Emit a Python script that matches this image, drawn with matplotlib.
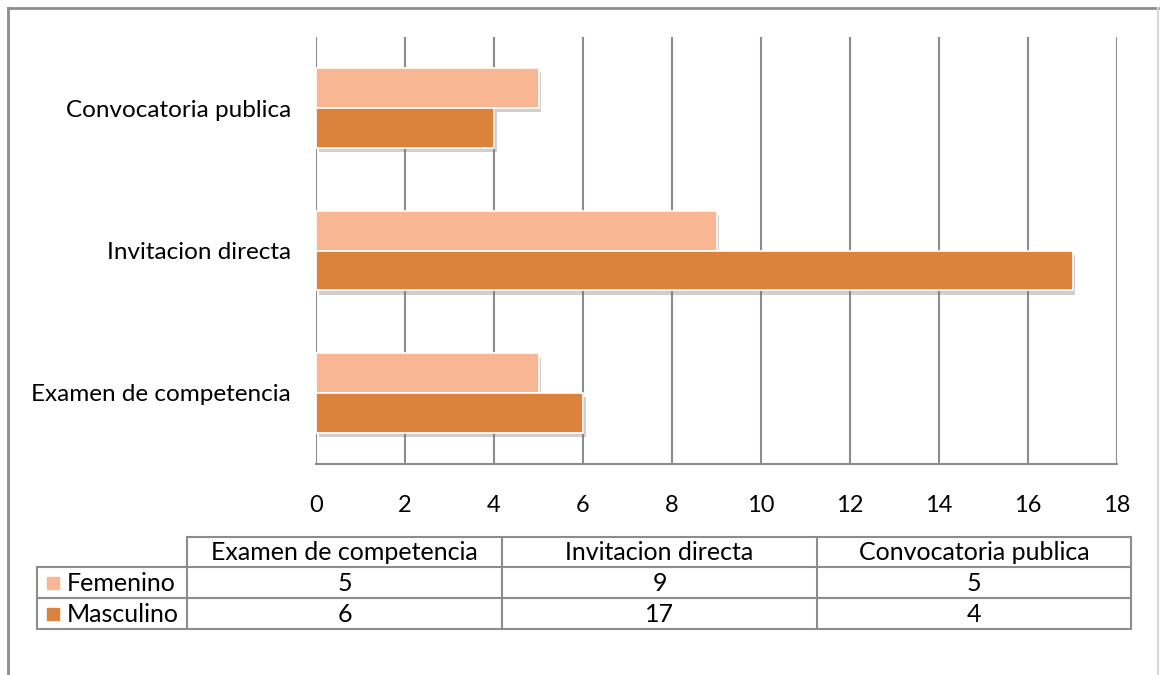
import numpy as np
import matplotlib.pyplot as plt
import matplotlib.patheffects as pe
from matplotlib.patches import Rectangle

# Datos
categorias = ['Examen de competencia', 'Invitacion directa', 'Convocatoria publica']
series = ['Femenino', 'Masculino']
femenino = [5, 9, 5]
masculino = [6, 17, 4]
colores = ['#F8B692', '#DB833C']

plt.rcParams['font.family'] = ['Lato', 'DejaVu Sans']

W, H = 1160, 675
fig = plt.figure(figsize=(W / 100, H / 100), dpi=100)

# Capa de fondo en pixeles para la tabla y el borde
bg = fig.add_axes([0, 0, 1, 1])
bg.set_xlim(0, W)
bg.set_ylim(H, 0)
bg.axis('off')

# Borde exterior
bg.plot([8, 8], [8, H], color='#8c8c8c', lw=2)
bg.plot([8, W - 2], [8, 8], color='#8c8c8c', lw=2)
bg.plot([W - 2, W - 2], [8, H], color='#d9d9d9', lw=1.5)

# Grafico de barras
ax = fig.add_axes([316 / W, 1 - 464 / H, (1117 - 316) / W, (464 - 37) / H])
y = np.arange(len(categorias))
h = 0.28
sombra = [pe.SimplePatchShadow(offset=(2, -3), shadow_rgbFace='#777777', alpha=0.35), pe.Normal()]
b1 = ax.barh(y + h / 2, femenino, height=h, color=colores[0], edgecolor='white', lw=1.2, zorder=3)
b2 = ax.barh(y - h / 2, masculino, height=h, color=colores[1], edgecolor='white', lw=1.2, zorder=3)
for b in list(b1) + list(b2):
    b.set_path_effects(sombra)

ax.set_xlim(0, 18)
ax.set_ylim(-0.5, 2.5)
ax.set_xticks(range(0, 19, 2))
ax.set_yticks(y)
ax.set_yticklabels(categorias, fontsize=17.5)
ax.tick_params(axis='both', length=0, colors='black')
ax.tick_params(axis='x', labelsize=17, pad=22)
ax.tick_params(axis='y', pad=18)
ax.grid(axis='x', color='#8c8c8c', lw=1.5, zorder=0)
for s in ['top', 'right', 'left']:
    ax.spines[s].set_visible(False)
ax.spines['bottom'].set_color('#8c8c8c')
ax.spines['bottom'].set_linewidth(1.5)

# Tabla de datos
cols_x = [37, 187, 502, 817, 1131]
rows_y = [537, 567, 598, 629]
lc = '#8c8c8c'
fs = 18
bg.plot([187, 1131], [rows_y[0]] * 2, color=lc, lw=1.5)
for yy in rows_y[1:]:
    bg.plot([37, 1131], [yy] * 2, color=lc, lw=1.5)
bg.plot([37, 37], [rows_y[1], rows_y[3]], color=lc, lw=1.5)
for xx in cols_x[1:]:
    bg.plot([xx, xx], [rows_y[0], rows_y[3]], color=lc, lw=1.5)

for i, cat in enumerate(categorias):
    cx = (cols_x[i + 1] + cols_x[i + 2]) / 2
    bg.text(cx, (rows_y[0] + rows_y[1]) / 2 + 1, cat, ha='center', va='center', fontsize=fs)
    for j, vals in enumerate([femenino, masculino]):
        bg.text(cx, (rows_y[j + 1] + rows_y[j + 2]) / 2 + 1, str(vals[i]),
                ha='center', va='center', fontsize=fs)

for j, nombre in enumerate(series):
    cy = (rows_y[j + 1] + rows_y[j + 2]) / 2
    bg.add_patch(Rectangle((47, cy - 6), 12, 12, color=colores[j]))
    bg.text(67, cy + 1, nombre, ha='left', va='center', fontsize=fs)

fig.savefig('out.png', dpi=100)
